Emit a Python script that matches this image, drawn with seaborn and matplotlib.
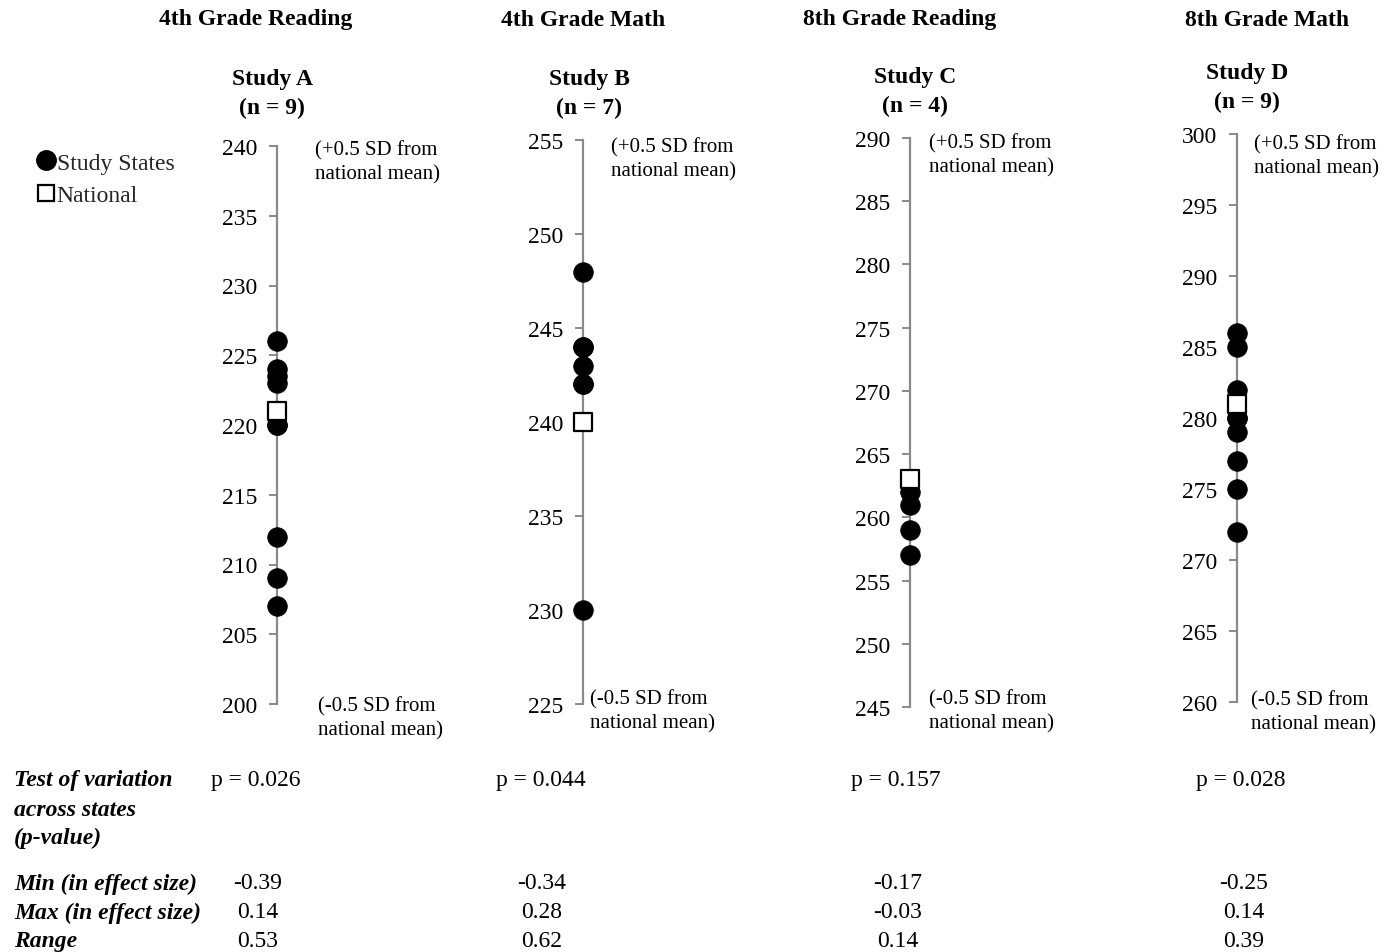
import numpy as np
import pandas as pd
import matplotlib
matplotlib.use("Agg")
import matplotlib.pyplot as plt
from matplotlib.lines import Line2D
import seaborn as sns

# ---------------- data ----------------
grades = ["4th Grade Reading", "4th Grade Math", "8th Grade Reading", "8th Grade Math"]
studies = ["Study A", "Study B", "Study C", "Study D"]
n_states = [9, 7, 4, 9]

states_a = [226, 224, 223.5, 223, 220, 220, 212, 209, 207]
states_b = [248, 244, 244, 243, 242, 242, 230]
states_c = [262, 261, 259, 257]
states_d = [286, 285, 282, 280, 280, 279, 277, 275, 272]
state_values = [states_a, states_b, states_c, states_d]

national = [221, 240, 263, 281]
y_min = [200, 225, 245, 260]
y_max = [240, 255, 290, 300]

p_values = ["p = 0.026", "p = 0.044", "p = 0.157", "p = 0.028"]
min_es = ["-0.39", "-0.34", "-0.17", "-0.25"]
max_es = ["0.14", "0.28", "-0.03", "0.14"]
range_es = ["0.53", "0.62", "0.14", "0.39"]

# ---------------- style ----------------
sns.set_theme(style="white")
plt.rcParams["font.family"] = ["Liberation Serif", "DejaVu Serif"]

W, H = 1385, 953
fig = plt.figure(figsize=(W / 100, H / 100), dpi=100)
fig.patch.set_facecolor("white")

def T(x, y, s, **kw):
    kw.setdefault("va", "center")
    kw.setdefault("ha", "left")
    kw.setdefault("color", "black")
    fig.text(x / W, 1 - (y + 2) / H, s, **kw)

# axis geometry in pixels: (center x, top y, bottom y)
geo = [(277, 147, 705), (583, 141, 705), (910, 139, 708), (1237, 135, 703)]
half_w = 60

grey = "#8a8a8a"
for i, (cx, ytop, ybot) in enumerate(geo):
    ax = fig.add_axes([(cx - half_w) / W, 1 - ybot / H, 2 * half_w / W, (ybot - ytop) / H])
    ax.set_facecolor("none")
    ax.set_xlim(-1, 1)
    ax.set_ylim(y_min[i], y_max[i])
    for s in ["top", "right", "bottom"]:
        ax.spines[s].set_visible(False)
    ax.spines["left"].set_position(("data", 0))
    ax.spines["left"].set_color(grey)
    ax.spines["left"].set_linewidth(1.6)
    ax.set_yticks(np.arange(y_min[i], y_max[i] + 1, 5))
    ax.tick_params(axis="y", direction="out", length=6, width=1.4, color=grey,
                   labelcolor="black", labelsize=17, pad=8, left=True)
    ax.set_xticks([])
    ax.set_xlabel("")
    ax.set_ylabel("")

    vals = state_values[i]
    sns.scatterplot(x=np.zeros(len(vals)), y=vals, ax=ax, marker="o", s=200,
                    color="black", edgecolor="black", linewidth=0.5,
                    legend=False, zorder=3, clip_on=False)
    sns.scatterplot(x=[0], y=[national[i]], ax=ax, marker="s", s=150,
                    color="white", edgecolor="black", linewidth=1.6,
                    legend=False, zorder=4, clip_on=False)

# titles
title_x = [256, 583, 900, 1267]
study_pos = [(272, 78, 106), (589, 78, 106), (915, 76, 104), (1247, 72, 100)]
for i in range(4):
    T(title_x[i], 18, grades[i], ha="center", fontsize=17, fontweight="bold")
    sx, y1, y2 = study_pos[i]
    T(sx, y1, studies[i], ha="center", fontsize=17, fontweight="bold")
    T(sx, y2, f"(n = {n_states[i]})", ha="center", fontsize=17, fontweight="bold")

# SD annotations
top_ann = [(315, 149), (611, 146), (929, 142), (1254, 143)]
bot_ann = [(318, 705), (590, 698), (929, 698), (1251, 699)]
for i in range(4):
    x, y = top_ann[i]
    T(x, y, "(+0.5 SD from", fontsize=15)
    T(x, y + 24, "national mean)", fontsize=15)
    x, y = bot_ann[i]
    T(x, y, "(-0.5 SD from", fontsize=15)
    T(x, y + 24, "national mean)", fontsize=15)

# legend
handles = [
    Line2D([], [], marker="o", linestyle="none", markersize=14, markerfacecolor="black",
           markeredgecolor="black", label="Study States"),
    Line2D([], [], marker="s", linestyle="none", markersize=11, markerfacecolor="white",
           markeredgecolor="black", markeredgewidth=1.6, label="National"),
]
fig.legend(handles=handles, loc="upper left", bbox_to_anchor=(39 / W, 1 - 153 / H),
           frameon=False, fontsize=17, handlelength=0.6, handletextpad=0.15,
           labelspacing=0.48, borderpad=0, borderaxespad=0)

# bottom table
bi = dict(fontsize=17, fontweight="bold", fontstyle="italic")
T(14, 779, "Test of variation", **bi)
T(14, 808, "across states", **bi)
T(14, 836, "(p-value)", **bi)
T(14, 882, "Min (in effect size)", **bi)
T(14, 911, "Max (in effect size)", **bi)
T(14, 940, "Range", **bi)

p_x = [211, 496, 851, 1196]
val_x = [258, 542, 898, 1244]
for i in range(4):
    T(p_x[i], 779, p_values[i], fontsize=17)
    T(val_x[i], 882, min_es[i], fontsize=17, ha="center")
    T(val_x[i], 911, max_es[i], fontsize=17, ha="center")
    T(val_x[i], 940, range_es[i], fontsize=17, ha="center")

fig.savefig("out.png", dpi=100, facecolor="white")
